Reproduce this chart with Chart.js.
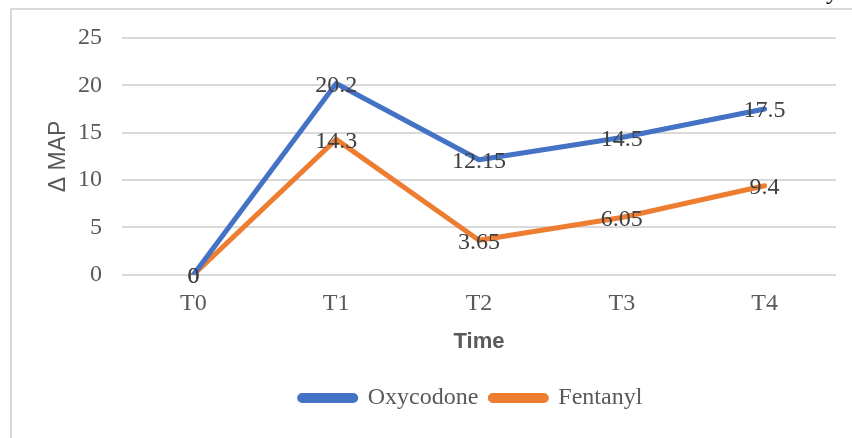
<!DOCTYPE html>
<html>
<head>
<meta charset="utf-8">
<script src="https://cdn.jsdelivr.net/npm/chart.js@4.4.1/dist/chart.umd.min.js"></script>
<style>
	html, body { margin: 0; padding: 0; background: #fff; overflow: hidden; }
	#wrap { position: relative; width: 852px; height: 438px; }
	#frame { position: absolute; left: 10px; top: 8px; width: 900px; height: 500px; border: 2px solid #D9D9D9; box-sizing: border-box; }
	#cut { position: absolute; left: 826px; top: -21px; font: 24px "Liberation Serif", "Times New Roman", serif; line-height: 24px; color: #000; }
	canvas { position: absolute; left: 0; top: 0; }
</style>
</head>
<body>
<div id="wrap">
	<div id="frame"></div>
	<div id="cut">y</div>
	<canvas id="myChart" width="852" height="438"></canvas>
</div>
<script>
var times = ['T0', 'T1', 'T2', 'T3', 'T4'];
var oxycodone = [0, 20.2, 12.15, 14.5, 17.5];
var fentanyl = [0, 14.3, 3.65, 6.05, 9.4];
var yTicks = [0, 5, 10, 15, 20, 25];

var serif = '"Liberation Serif", "Times New Roman", serif';
var sans = '"Liberation Sans", Arial, sans-serif';

// value labels on each point, centred like the office chart
var pointLabels = {
	id: 'pointLabels',
	afterDatasetsDraw: function(chart){
		var ctx = chart.ctx;
		ctx.save();
		ctx.font = '24px ' + serif;
		ctx.fillStyle = '#404040';
		ctx.textAlign = 'center';
		ctx.textBaseline = 'middle';
		chart.data.datasets.forEach(function(ds, i){
			var meta = chart.getDatasetMeta(i);
			meta.data.forEach(function(pt, j){
				ctx.fillText(String(ds.data[j]), pt.x, pt.y + 2);
			});
		});
		ctx.restore();
	}
};

// legend sits a bit right of centre in the original
var legendShift = {
	id: 'legendShift',
	afterLayout: function(chart){
		chart.legend.left = 106;
	}
};

var ctx = document.getElementById('myChart');

var lineChart = new Chart(ctx, {
	type: 'line',
	data: {
		labels: times,
		datasets: [
			{
				label: 'Oxycodone',
				data: oxycodone,
				borderColor: '#4472C4',
				backgroundColor: '#4472C4',
				borderWidth: 5,
				pointRadius: 0,
				tension: 0,
				borderJoinStyle: 'round',
				borderCapStyle: 'round'
			},
			{
				label: 'Fentanyl',
				data: fentanyl,
				borderColor: '#ED7D31',
				backgroundColor: '#ED7D31',
				borderWidth: 5,
				pointRadius: 0,
				tension: 0,
				borderJoinStyle: 'round',
				borderCapStyle: 'round'
			}
		]
	},
	options: {
		responsive: false,
		animation: false,
		layout: { padding: { top: 38, right: 16, bottom: 18, left: 0 } },
		plugins: {
			tooltip: { enabled: false },
			legend: {
				position: 'bottom',
				labels: {
					font: { family: serif, size: 24 },
					color: '#595959',
					boxWidth: 56,
					boxHeight: 5,
					useBorderRadius: true,
					borderRadius: 2.5,
					padding: 12
				}
			}
		},
		scales: {
			x: {
				offset: true,
				grid: { display: false, drawTicks: false },
				border: { display: false },
				ticks: { font: { family: serif, size: 24 }, color: '#595959', padding: 15 },
				title: {
					display: true,
					text: 'Time',
					font: { family: sans, size: 22, weight: 'bold' },
					color: '#595959',
					padding: { top: -5, bottom: 19 }
				}
			},
			y: {
				min: 0,
				max: 25,
				afterFit: function(scale){ scale.width = 122; },
				afterBuildTicks: function(scale){
					scale.ticks = yTicks.map(function(v){ return { value: v }; });
				},
				grid: { color: '#D9D9D9', lineWidth: 2, drawTicks: false },
				border: { display: false },
				ticks: { font: { family: serif, size: 24 }, color: '#595959', padding: 20 },
				title: {
					display: true,
					text: 'Δ MAP',
					font: { family: sans, size: 23 },
					color: '#595959',
					padding: { top: 45, bottom: 4 }
				}
			}
		}
	},
	plugins: [pointLabels, legendShift]
});
</script>
</body>
</html>
